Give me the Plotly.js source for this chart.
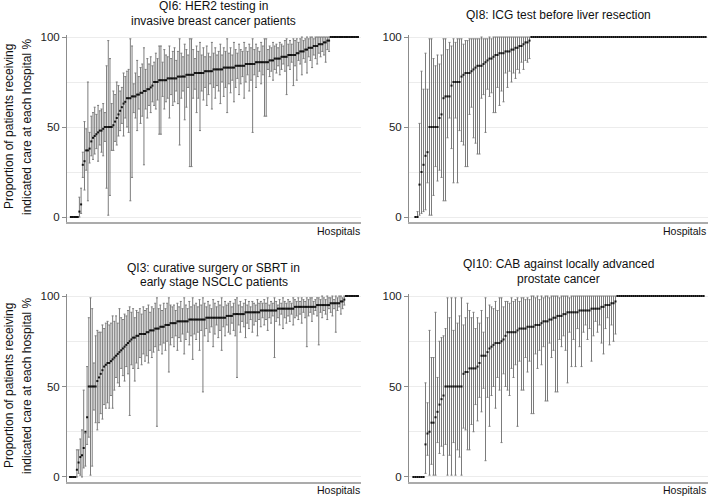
<!DOCTYPE html>
<html>
<head>
<meta charset="utf-8">
<script src="https://cdn.plot.ly/plotly-3.0.1.min.js"></script>
<style>html,body{margin:0;padding:0;background:#fff;}#chart{width:709px;height:496px;}</style>
</head>
<body>
<div id="chart"></div>
<script>
// ---------- Panel titles ----------
const panelTitles = [
  ["QI6: HER2 testing in", "invasive breast cancer patients"],
  ["QI8: ICG test before liver resection"],
  ["QI3: curative surgery or SBRT in", "early stage NSCLC patients"],
  ["QI10: CAB against locally advanced", "prostate cancer"]
];
const yTitleLines = ["Proportion of patients receiving", "indicated care at each hospital %"];
const xTitle = "Hospitals";
const yTickVals = [0, 50, 100];
const yGridMinor = [25, 75];

// ---------- QI6 (HER2 testing) ----------
const qi6Rate = [0,0,0,0,0, 3,7, 29,31, 37,37,38,
42,44,45,46,47,48,48,49,50,50,50,
50,50,51,
53,55,57,59,61,63,64,66,
66,66,67,67,
67,68,68,69,69,70,70,71,71,72,73,
75,
75,75,76,76,76,76,76,77,77,77,77,77,77,
78,78,78,78,78,79,79,79,79,79,80,80,80,80,
80,80,81,81,81,81,81,82,82,82,82,82,82,83,83,83,83,83,83,83,
84,84,84,84,84,84,85,85,85,85,85,85,86,86,86,86,86,86,86,86,
87,87,87,88,88,88,88,89,89,89,89,90,90,90,90,
90,91,91,92,92,92,93,93,94,94,94,95,95,95,96,96,96,97,97,98,98,
100,100,100,100,100,100,100,100,100,100,100,100,100,100,100,100,100];
const qi6Lo = [0,0,0,0,0, 0,2, 22,15, 26,9,30,
34,32,35,38,31,40,36,34,42,16,1,
12,37,37,
42,40,45,48,52,45,55,50,
47,9,22,58,
55,48,60,52,56,29,60,55,62,58,64,
62,
60,65,46,46,67,60,64,66,55,68,62,64,70,
63,40,66,70,54,61,72,28,28,66,71,58,66,48,
70,65,72,62,68,74,60,72,66,73,70,63,75,67,72,58,74,69,76,64,
72,77,68,74,78,66,75,79,70,76,47,79,72,78,81,74,79,56,56,82,
78,81,76,82,80,84,79,82,85,81,68,84,82,86,73,
84,76,87,85,79,88,86,80,89,87,83,90,88,85,91,89,92,90,86,93,92,
100,100,100,100,100,100,100,100,100,100,100,100,100,100,100,100,100];
const qi6Hi = [0,0,0,0,0, 11,16, 36,53, 49,75,47,
56,58,61,57,62,59,60,63,58,84,98,
88,63,70,
68,75,73,70,72,80,78,81,
82,99,95,74,
80,87,78,83,85,94,82,88,85,89,84,
86,
91,88,95,95,86,93,90,89,95,88,92,94,87,
92,99,91,89,96,93,90,99,99,93,88,95,92,97,
90,94,89,95,91,89,97,91,94,90,92,96,90,94,92,99,91,94,90,97,
93,91,96,93,92,97,94,92,96,94,99,93,96,94,92,97,95,99,99,93,
95,94,97,95,96,94,97,96,95,98,99,96,98,96,99,
98,99,97,99,100,98,99,100,99,100,100,99,100,100,100,100,100,100,100,100,100,
100,100,100,100,100,100,100,100,100,100,100,100,100,100,100,100,100];

// ---------- QI8 (ICG test) ----------
const qi8Rate = [0,0,18,25,29,34,36,50,50,50,50,50,55,57,66,67,67,67,73,75,75,75,75,78,79,80,80,80,81,82,83,84,84,84,85,86,87,88,88,89,90,90,91,91,91,92,92,92,93,93,94,94,95,95,96,97,97,98,
100,100,100,100,100,100,100,100,100,100,100,100,100,100,100,100,100,100,100,100,100,100,
100,100,100,100,100,100,100,100,100,100,100,100,100,100,100,100,100,100,100,100,100,100,
100,100,100,100,100,100,100,100,100,100,100,100,100,100,100,100,100,100,100,100,100,100,
100,100,100,100,100,100,100,100,100,100,100,100,100,100,100,100,100,100,100,100,100,100];
const qi8Lo = [0,0,1,2,3,4,19,1,1,12,28,20,26,22,9,9,44,55,38,19,55,19,48,42,40,28,28,57,61,44,41,35,35,66,68,47,71,67,69,58,58,72,62,70,64,80,72,81,75,80,77,82,80,86,82,87,86,88,
100,100,100,100,100,100,100,100,100,100,100,100,100,100,100,100,100,100,100,100,100,100,
100,100,100,100,100,100,100,100,100,100,100,100,100,100,100,100,100,100,100,100,100,100,
100,100,100,100,100,100,100,100,100,100,100,100,100,100,100,100,100,100,100,100,100,100,
100,100,100,100,100,100,100,100,100,100,100,100,100,100,100,100,100,100,100,100,100,100];
const qi8Hi = [0,3,52,81,71,91,71,99,99,88,84,90,85,90,99,99,93,97,95,99,97,99,99,99,96,98,98,99,99,99,99,99,99,100,99,99,99,100,99,100,100,100,100,100,100,100,100,100,100,100,100,100,100,100,100,100,100,100,
100,100,100,100,100,100,100,100,100,100,100,100,100,100,100,100,100,100,100,100,100,100,
100,100,100,100,100,100,100,100,100,100,100,100,100,100,100,100,100,100,100,100,100,100,
100,100,100,100,100,100,100,100,100,100,100,100,100,100,100,100,100,100,100,100,100,100,
100,100,100,100,100,100,100,100,100,100,100,100,100,100,100,100,100,100,100,100,100,100];

// ---------- QI3 (curative surgery / SBRT) ----------
const qi3Rate = [0,0,0,0,
4,8,11,12,16,25,33,
50,50,50,50,50,
53,55,57,59,61,62,63,63,64,65,66,67,68,69,70,71,72,73,74,75,76,77,77,78,78,79,79,79,79,80,80,81,81,81,82,82,82,83,83,83,84,84,84,85,85,
85,85,86,86,86,86,86,86,86,87,87,87,87,
87,87,87,87,87,87,88,88,88,88,88,88,88,88,88,88,88,88,89,89,
89,89,90,90,90,90,90,90,90,91,91,91,91,91,91,91,91,91,92,92,
92,92,92,92,92,92,92,92,93,93,93,93,93,93,93,93,93,93,94,94,
94,94,94,94,94,94,94,94,94,94,94,95,95,95,95,95,95,95,95,96,96,96,96,96,96,97,97,
98,
100,100,100,100,100,100,100,100];
const qi3Lo = [0,0,0,0,
0,2,1,0,5,6,18,
22,1,6,37,30,
26,30,35,32,40,38,41,38,45,38,48,55,52,50,60,56,53,61,57,34,62,60,53,63,60,66,62,68,64,67,63,70,66,69,72,28,70,73,68,74,70,75,58,73,77,
72,78,70,77,75,79,68,76,80,73,78,65,79,
76,80,70,81,47,78,82,75,80,83,72,79,84,77,81,70,83,78,84,80,
79,85,81,78,55,84,80,86,83,77,85,82,87,80,84,86,78,87,83,88,
84,87,81,88,85,89,66,86,88,84,90,82,88,85,89,86,90,84,88,89,
87,90,85,91,88,72,89,91,86,90,92,89,73,91,88,92,90,87,93,91,89,93,80,92,94,90,93,
95,
100,100,100,100,100,100,100,100];
const qi3Hi = [0,0,0,0,
15,15,21,26,48,24,61,
88,99,93,63,78,
81,80,80,84,82,85,86,84,85,89,86,89,85,93,88,87,90,89,92,94,91,93,88,92,91,93,90,94,92,93,95,91,94,93,96,99,93,95,92,96,93,96,99,95,94,
95,92,96,94,97,93,99,95,93,97,94,99,95,
96,94,98,95,99,96,94,97,95,93,98,96,94,97,95,99,94,97,95,96,
97,94,96,98,99,95,97,94,96,98,95,97,94,97,96,95,98,96,97,96,
98,96,99,95,97,96,99,97,95,98,96,99,97,96,98,97,96,99,98,97,
99,97,99,98,97,99,98,99,99,97,98,99,99,98,100,99,98,100,99,99,100,98,100,99,100,100,99,
100,
100,100,100,100,100,100,100,100];

// ---------- QI10 (CAB) ----------
const qi10Rate = [0,0,0,0,0,0,
18,24,25,30,30,33,36,40,43,45,
50,50,50,50,50,50,50,50,50,
57,58,58,60,60,60,60,
61,63,67,67,67,69,71,72,73,74,74,74,75,76,78,
80,80,80,80,80,81,82,82,82,82,
83,83,83,83,84,84,84,85,86,86,86,87,87,
88,88,89,89,89,90,90,91,91,91,91,91,91,
92,92,92,92,92,92,93,93,93,93,93,94,94,95,95,95,96,96,97,
100,100,100,100,100,100,100,100,100,100,100,100,100,100,100,100,100,100,100,100,100,100,
100,100,100,100,100,100,100,100,100,100,100,100,100,100,100,100,100,100,100,100,100,100];
const qi10Lo = [0,0,0,0,0,0,
2,12,1,7,1,1,19,13,17,12,
18,1,12,1,19,1,15,11,1,
27,26,15,15,29,25,40,
31,44,36,49,9,44,28,45,50,38,55,48,19,57,50,
48,45,60,55,62,28,64,48,48,66,
58,64,35,35,68,60,70,62,72,42,42,74,66,
70,47,47,76,72,78,70,52,80,61,76,61,82,
72,61,80,84,76,82,64,78,86,80,84,74,68,82,88,73,84,75,79,
100,100,100,100,100,100,100,100,100,100,100,100,100,100,100,100,100,100,100,100,100,100,
100,100,100,100,100,100,100,100,100,100,100,100,100,100,100,100,100,100,100,100,100,100];
const qi10Hi = [0,0,0,0,0,0,
52,41,81,66,66,91,55,75,77,78,
82,99,88,99,81,99,85,89,99,
84,88,96,92,88,91,82,
88,85,92,80,99,88,95,94,93,97,92,99,99,94,97,
97,96,99,97,98,99,97,99,99,98,
99,98,100,100,99,100,98,100,99,100,100,99,100,
100,100,100,99,100,100,100,100,99,100,100,100,100,
100,100,100,100,100,100,100,100,100,100,100,100,100,100,100,100,100,100,100,
100,100,100,100,100,100,100,100,100,100,100,100,100,100,100,100,100,100,100,100,100,100,
100,100,100,100,100,100,100,100,100,100,100,100,100,100,100,100,100,100,100,100,100,100];

// ---------- Build ----------
const FONT = 'Liberation Sans, Arial, Helvetica, sans-serif';

function makeTrace(rate, lo, hi, xa, ya) {
  return {
    type: 'scatter', mode: 'markers',
    x: rate.map((_, i) => i + 1), y: rate,
    xaxis: xa, yaxis: ya,
    marker: {symbol: 'square', size: 2, color: '#111', line: {width: 0}},
    error_y: {
      type: 'data', symmetric: false,
      array: hi.map((h, i) => h - rate[i]),
      arrayminus: rate.map((r, i) => r - lo[i]),
      color: '#7c7c7c', thickness: 1, width: 1
    },
    hoverinfo: 'skip', cliponaxis: false, showlegend: false
  };
}

const data = [
  makeTrace(qi6Rate, qi6Lo, qi6Hi, 'x', 'y'),
  makeTrace(qi8Rate, qi8Lo, qi8Hi, 'x2', 'y2'),
  makeTrace(qi3Rate, qi3Lo, qi3Hi, 'x3', 'y3'),
  makeTrace(qi10Rate, qi10Lo, qi10Hi, 'x4', 'y4')
];

const W = 709, H = 496;
const px = v => v / W;
const py = v => 1 - v / H;

function xAxis(domain, range, anchor) {
  return {domain, range, anchor, showline: true, linecolor: '#ababab', linewidth: 2,
    ticks: '', showticklabels: false, showgrid: false, zeroline: false, fixedrange: true};
}
function yAxis(domain, anchor) {
  return {domain, range: [-2.5, 101], anchor, showline: true, linecolor: '#8c8c8c', linewidth: 1,
    ticks: 'outside', ticklen: 4, tickcolor: '#8c8c8c', tickmode: 'array', tickvals: yTickVals,
    tickfont: {family: FONT, size: 11.5, color: '#222'},
    showgrid: true, gridcolor: '#ececec', gridwidth: 1, zeroline: false,
    minor: {tickmode: 'array', tickvals: yGridMinor, showgrid: true, gridcolor: '#ececec', ticks: ''},
    fixedrange: true};
}

const colL = [px(67), px(361)], colR = [px(409), px(708)];
const rowT = [py(221.5), py(35.2)], rowB = [py(481.5), py(294.2)];

const ann = [];
function txt(text, x, y, opts) {
  ann.push(Object.assign({text, x: px(x), y: py(y), xref: 'paper', yref: 'paper', showarrow: false,
    xanchor: 'center', yanchor: 'middle', font: {family: FONT, size: 12, color: '#111'}}, opts || {}));
}
// panel titles
txt(panelTitles[0][0], 214, 6); txt(panelTitles[0][1], 214, 21);
txt(panelTitles[1][0], 558, 15);
txt(panelTitles[2][0], 214, 268); txt(panelTitles[2][1], 214, 282);
txt(panelTitles[3][0], 558, 264); txt(panelTitles[3][1], 558, 279);
// y titles
[[127], [386]].forEach(([yc]) => {
  txt(yTitleLines[0], 9, yc, {textangle: -90});
  txt(yTitleLines[1], 27, yc, {textangle: -90});
});
// x titles
[[362, 231], [708, 231], [362, 490], [708, 490]].forEach(([x, y]) => {
  txt(xTitle, x, y, {xanchor: 'right', font: {family: FONT, size: 10.5, color: '#111'}});
});

const layout = {
  width: W, height: H, margin: {l: 0, r: 0, t: 0, b: 0},
  paper_bgcolor: '#fff', plot_bgcolor: '#fff',
  xaxis: xAxis(colL, [-1.3, 171.8], 'y'),
  yaxis: yAxis(rowT, 'x'),
  xaxis2: xAxis(colR, [-2.25, 147.25], 'y2'),
  yaxis2: yAxis(rowT, 'x2'),
  xaxis3: xAxis(colL, [-0.8, 171.8], 'y3'),
  yaxis3: yAxis(rowB, 'x3'),
  xaxis4: xAxis(colR, [-1.25, 148.25], 'y4'),
  yaxis4: yAxis(rowB, 'x4'),
  annotations: ann,
  showlegend: false
};

Plotly.newPlot('chart', data, layout, {staticPlot: true, displayModeBar: false});
</script>
</body>
</html>
